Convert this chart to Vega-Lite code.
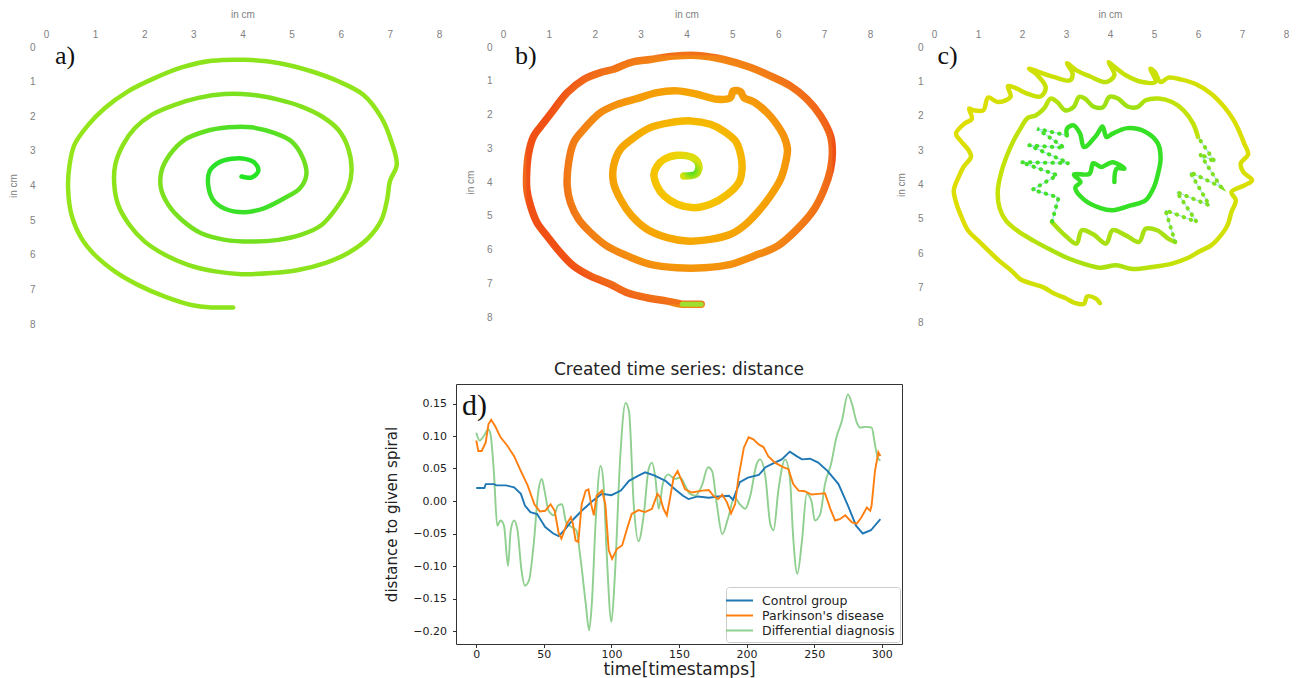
{
"$schema":"https://vega.github.io/schema/vega-lite/v6.json",
"background":"white",
"padding":{"left":8,"top":9,"right":0,"bottom":0},
"config":{"font":"DejaVu Sans","view":{"stroke":null}},
"resolve":{"scale":{"color":"independent"},"legend":{"color":"independent"}},
"datasets":{
"a":[{"i":1,"x":3.98,"y":3.74},{"i":2,"x":4.18,"y":3.77},{"i":3,"x":4.32,"y":3.59},{"i":4,"x":4.25,"y":3.35},{"i":5,"x":4.05,"y":3.23},{"i":6,"x":3.78,"y":3.23},{"i":7,"x":3.50,"y":3.35},{"i":8,"x":3.33,"y":3.59},{"i":9,"x":3.30,"y":3.98},{"i":10,"x":3.40,"y":4.41},{"i":11,"x":3.64,"y":4.67},{"i":12,"x":4.05,"y":4.77},{"i":13,"x":4.45,"y":4.65},{"i":14,"x":4.86,"y":4.36},{"i":15,"x":5.17,"y":4.08},{"i":16,"x":5.30,"y":3.69},{"i":17,"x":5.23,"y":3.21},{"i":18,"x":5.00,"y":2.73},{"i":19,"x":4.66,"y":2.49},{"i":20,"x":4.18,"y":2.32},{"i":21,"x":3.71,"y":2.32},{"i":22,"x":3.23,"y":2.44},{"i":23,"x":2.82,"y":2.68},{"i":24,"x":2.52,"y":3.11},{"i":25,"x":2.35,"y":3.59},{"i":26,"x":2.34,"y":4.08},{"i":27,"x":2.49,"y":4.56},{"i":28,"x":2.76,"y":4.99},{"i":29,"x":3.16,"y":5.38},{"i":30,"x":3.64,"y":5.57},{"i":31,"x":4.18,"y":5.62},{"i":32,"x":4.73,"y":5.57},{"i":33,"x":5.20,"y":5.42},{"i":34,"x":5.61,"y":5.14},{"i":35,"x":5.91,"y":4.65},{"i":36,"x":6.15,"y":4.08},{"i":37,"x":6.22,"y":3.59},{"i":38,"x":6.15,"y":2.92},{"i":39,"x":5.95,"y":2.39},{"i":40,"x":5.61,"y":2.00},{"i":41,"x":5.20,"y":1.72},{"i":42,"x":4.73,"y":1.52},{"i":43,"x":4.18,"y":1.38},{"i":44,"x":3.64,"y":1.36},{"i":45,"x":3.10,"y":1.47},{"i":46,"x":2.62,"y":1.67},{"i":47,"x":2.15,"y":1.96},{"i":48,"x":1.81,"y":2.34},{"i":49,"x":1.57,"y":2.82},{"i":50,"x":1.41,"y":3.40},{"i":51,"x":1.39,"y":3.98},{"i":52,"x":1.47,"y":4.56},{"i":53,"x":1.70,"y":5.14},{"i":54,"x":2.01,"y":5.62},{"i":55,"x":2.42,"y":6.00},{"i":56,"x":2.89,"y":6.29},{"i":57,"x":3.44,"y":6.48},{"i":58,"x":3.98,"y":6.56},{"i":59,"x":4.59,"y":6.53},{"i":60,"x":5.13,"y":6.44},{"i":61,"x":5.68,"y":6.24},{"i":62,"x":6.15,"y":5.95},{"i":63,"x":6.56,"y":5.52},{"i":64,"x":6.83,"y":4.99},{"i":65,"x":6.95,"y":4.36},{"i":66,"x":7.00,"y":3.88},{"i":67,"x":7.14,"y":3.40},{"i":68,"x":7.03,"y":2.73},{"i":69,"x":6.83,"y":2.05},{"i":70,"x":6.46,"y":1.38},{"i":71,"x":5.95,"y":0.99},{"i":72,"x":5.40,"y":0.70},{"i":73,"x":4.73,"y":0.46},{"i":74,"x":4.05,"y":0.37},{"i":75,"x":3.37,"y":0.40},{"i":76,"x":2.76,"y":0.59},{"i":77,"x":2.21,"y":0.90},{"i":78,"x":1.67,"y":1.28},{"i":79,"x":1.20,"y":1.76},{"i":80,"x":0.86,"y":2.25},{"i":81,"x":0.58,"y":2.82},{"i":82,"x":0.48,"y":3.40},{"i":83,"x":0.45,"y":4.08},{"i":84,"x":0.52,"y":4.85},{"i":85,"x":0.72,"y":5.52},{"i":86,"x":0.99,"y":6.00},{"i":87,"x":1.40,"y":6.48},{"i":88,"x":1.87,"y":6.87},{"i":89,"x":2.42,"y":7.21},{"i":90,"x":2.96,"y":7.45},{"i":91,"x":3.37,"y":7.52},{"i":92,"x":3.81,"y":7.52}],
"b":[{"i":1,"x":3.94,"y":3.82},{"i":2,"x":4.20,"y":3.77},{"i":3,"x":4.27,"y":3.58},{"i":4,"x":4.23,"y":3.38},{"i":5,"x":4.09,"y":3.25},{"i":6,"x":3.80,"y":3.21},{"i":7,"x":3.51,"y":3.33},{"i":8,"x":3.36,"y":3.53},{"i":9,"x":3.29,"y":3.77},{"i":10,"x":3.36,"y":4.12},{"i":11,"x":3.51,"y":4.41},{"i":12,"x":3.80,"y":4.66},{"i":13,"x":4.16,"y":4.76},{"i":14,"x":4.52,"y":4.66},{"i":15,"x":4.89,"y":4.37},{"i":16,"x":5.14,"y":4.02},{"i":17,"x":5.21,"y":3.62},{"i":18,"x":5.18,"y":3.18},{"i":19,"x":5.07,"y":2.79},{"i":20,"x":4.81,"y":2.49},{"i":21,"x":4.52,"y":2.29},{"i":22,"x":4.09,"y":2.19},{"i":23,"x":3.65,"y":2.24},{"i":24,"x":3.21,"y":2.39},{"i":25,"x":2.85,"y":2.69},{"i":26,"x":2.56,"y":3.03},{"i":27,"x":2.41,"y":3.53},{"i":28,"x":2.41,"y":4.02},{"i":29,"x":2.56,"y":4.51},{"i":30,"x":2.81,"y":5.01},{"i":31,"x":3.14,"y":5.40},{"i":32,"x":3.58,"y":5.65},{"i":33,"x":4.01,"y":5.75},{"i":34,"x":4.52,"y":5.70},{"i":35,"x":4.96,"y":5.55},{"i":36,"x":5.25,"y":5.30},{"i":37,"x":5.54,"y":4.91},{"i":38,"x":5.83,"y":4.41},{"i":39,"x":6.05,"y":3.92},{"i":40,"x":6.16,"y":3.43},{"i":41,"x":6.20,"y":3.03},{"i":42,"x":6.12,"y":2.64},{"i":43,"x":5.94,"y":2.24},{"i":44,"x":5.76,"y":1.95},{"i":45,"x":5.47,"y":1.63},{"i":46,"x":5.25,"y":1.50},{"i":47,"x":5.18,"y":1.33},{"i":48,"x":5.02,"y":1.30},{"i":49,"x":4.96,"y":1.50},{"i":50,"x":4.67,"y":1.55},{"i":51,"x":4.23,"y":1.40},{"i":52,"x":3.80,"y":1.30},{"i":53,"x":3.36,"y":1.35},{"i":54,"x":2.92,"y":1.53},{"i":55,"x":2.49,"y":1.70},{"i":56,"x":2.12,"y":1.95},{"i":57,"x":1.76,"y":2.44},{"i":58,"x":1.54,"y":2.83},{"i":59,"x":1.43,"y":3.43},{"i":60,"x":1.40,"y":4.12},{"i":61,"x":1.47,"y":4.61},{"i":62,"x":1.65,"y":5.11},{"i":63,"x":1.91,"y":5.50},{"i":64,"x":2.27,"y":5.90},{"i":65,"x":2.71,"y":6.19},{"i":66,"x":3.21,"y":6.44},{"i":67,"x":3.80,"y":6.54},{"i":68,"x":4.38,"y":6.54},{"i":69,"x":4.96,"y":6.44},{"i":70,"x":5.47,"y":6.19},{"i":71,"x":5.98,"y":5.90},{"i":72,"x":6.41,"y":5.40},{"i":73,"x":6.78,"y":4.81},{"i":74,"x":7.00,"y":4.22},{"i":75,"x":7.14,"y":3.62},{"i":76,"x":7.18,"y":3.13},{"i":77,"x":7.14,"y":2.64},{"i":78,"x":6.92,"y":2.04},{"i":79,"x":6.63,"y":1.55},{"i":80,"x":6.27,"y":1.16},{"i":81,"x":5.83,"y":0.86},{"i":82,"x":5.40,"y":0.61},{"i":83,"x":4.81,"y":0.37},{"i":84,"x":4.23,"y":0.25},{"i":85,"x":3.72,"y":0.27},{"i":86,"x":3.21,"y":0.37},{"i":87,"x":2.78,"y":0.46},{"i":88,"x":2.41,"y":0.66},{"i":89,"x":2.12,"y":0.76},{"i":90,"x":1.76,"y":0.96},{"i":91,"x":1.40,"y":1.35},{"i":92,"x":1.11,"y":1.85},{"i":93,"x":0.89,"y":2.24},{"i":94,"x":0.67,"y":2.64},{"i":95,"x":0.56,"y":3.13},{"i":96,"x":0.52,"y":3.62},{"i":97,"x":0.52,"y":4.22},{"i":98,"x":0.60,"y":4.71},{"i":99,"x":0.74,"y":5.20},{"i":100,"x":0.96,"y":5.60},{"i":101,"x":1.25,"y":6.09},{"i":102,"x":1.54,"y":6.49},{"i":103,"x":1.91,"y":6.79},{"i":104,"x":2.34,"y":7.03},{"i":105,"x":2.71,"y":7.28},{"i":106,"x":3.14,"y":7.43},{"i":107,"x":3.58,"y":7.53},{"i":108,"x":3.91,"y":7.62},{"i":109,"x":4.16,"y":7.62},{"i":110,"x":4.32,"y":7.62}],
"c":[{"i":1,"x":4.10,"y":3.93},{"i":2,"x":4.15,"y":3.54},{"i":3,"x":4.33,"y":3.54},{"i":4,"x":4.06,"y":3.35},{"i":5,"x":3.80,"y":3.49},{"i":6,"x":3.62,"y":3.38},{"i":7,"x":3.53,"y":3.69},{"i":8,"x":3.18,"y":3.71},{"i":9,"x":3.33,"y":3.93},{"i":10,"x":3.21,"y":4.09},{"i":11,"x":3.41,"y":4.44},{"i":12,"x":3.77,"y":4.68},{"i":13,"x":4.06,"y":4.75},{"i":14,"x":4.47,"y":4.61},{"i":15,"x":4.81,"y":4.46},{"i":16,"x":5.00,"y":4.07},{"i":17,"x":5.09,"y":3.69},{"i":18,"x":5.15,"y":3.25},{"i":19,"x":5.09,"y":2.81},{"i":20,"x":4.81,"y":2.47},{"i":21,"x":4.40,"y":2.36},{"i":22,"x":4.06,"y":2.52},{"i":23,"x":3.92,"y":2.62},{"i":24,"x":3.83,"y":2.31},{"i":25,"x":3.69,"y":2.57},{"i":26,"x":3.41,"y":2.91},{"i":27,"x":3.32,"y":2.52},{"i":28,"x":3.17,"y":2.28},{"i":29,"x":3.02,"y":2.38},{"i":30,"x":3.02,"y":2.57},{"i":31,"x":2.35,"y":2.38},{"i":32,"x":2.96,"y":2.93},{"i":33,"x":2.16,"y":2.86},{"i":34,"x":3.06,"y":3.38},{"i":35,"x":1.98,"y":3.35},{"i":36,"x":2.80,"y":3.73},{"i":37,"x":2.24,"y":4.15},{"i":38,"x":2.83,"y":4.38},{"i":39,"x":2.68,"y":5.09},{"i":40,"x":3.02,"y":5.53},{"i":41,"x":3.24,"y":5.72},{"i":42,"x":3.36,"y":5.33},{"i":43,"x":3.62,"y":5.45},{"i":44,"x":3.91,"y":5.72},{"i":45,"x":4.06,"y":5.33},{"i":46,"x":4.36,"y":5.48},{"i":47,"x":4.66,"y":5.67},{"i":48,"x":4.81,"y":5.29},{"i":49,"x":5.07,"y":5.33},{"i":50,"x":5.33,"y":5.58},{"i":51,"x":5.48,"y":5.67},{"i":52,"x":5.26,"y":4.75},{"i":53,"x":5.97,"y":5.09},{"i":54,"x":5.52,"y":4.22},{"i":55,"x":6.26,"y":4.61},{"i":56,"x":5.82,"y":3.64},{"i":57,"x":6.52,"y":4.07},{"i":58,"x":6.04,"y":3.10},{"i":59,"x":6.39,"y":3.35},{"i":60,"x":6.00,"y":2.62},{"i":61,"x":5.89,"y":2.23},{"i":62,"x":5.67,"y":1.84},{"i":63,"x":5.41,"y":1.60},{"i":64,"x":5.11,"y":1.50},{"i":65,"x":4.81,"y":1.55},{"i":66,"x":4.62,"y":1.75},{"i":67,"x":4.40,"y":1.73},{"i":68,"x":4.18,"y":1.50},{"i":69,"x":3.99,"y":1.45},{"i":70,"x":3.84,"y":1.75},{"i":71,"x":3.62,"y":1.73},{"i":72,"x":3.43,"y":1.50},{"i":73,"x":3.30,"y":1.45},{"i":74,"x":3.17,"y":1.75},{"i":75,"x":2.98,"y":1.84},{"i":76,"x":2.80,"y":1.60},{"i":77,"x":2.65,"y":1.50},{"i":78,"x":2.50,"y":1.79},{"i":79,"x":2.31,"y":1.99},{"i":80,"x":2.13,"y":2.06},{"i":81,"x":1.96,"y":2.38},{"i":82,"x":1.81,"y":2.72},{"i":83,"x":1.66,"y":3.15},{"i":84,"x":1.53,"y":3.64},{"i":85,"x":1.45,"y":4.17},{"i":86,"x":1.49,"y":4.68},{"i":87,"x":1.64,"y":5.06},{"i":88,"x":1.90,"y":5.35},{"i":89,"x":2.27,"y":5.64},{"i":90,"x":2.65,"y":5.90},{"i":91,"x":3.02,"y":6.13},{"i":92,"x":3.39,"y":6.30},{"i":93,"x":3.77,"y":6.42},{"i":94,"x":4.14,"y":6.35},{"i":95,"x":4.51,"y":6.46},{"i":96,"x":4.96,"y":6.40},{"i":97,"x":5.41,"y":6.30},{"i":98,"x":5.78,"y":6.13},{"i":99,"x":6.04,"y":5.94},{"i":100,"x":6.30,"y":5.77},{"i":101,"x":6.52,"y":5.48},{"i":102,"x":6.67,"y":5.19},{"i":103,"x":6.76,"y":4.80},{"i":104,"x":6.86,"y":4.46},{"i":105,"x":6.76,"y":4.22},{"i":106,"x":7.05,"y":4.03},{"i":107,"x":7.23,"y":3.88},{"i":108,"x":7.03,"y":3.64},{"i":109,"x":6.97,"y":3.39},{"i":110,"x":7.14,"y":3.12},{"i":111,"x":7.05,"y":2.81},{"i":112,"x":6.96,"y":2.52},{"i":113,"x":6.81,"y":2.13},{"i":114,"x":6.60,"y":1.75},{"i":115,"x":6.30,"y":1.36},{"i":116,"x":5.97,"y":1.09},{"i":117,"x":5.63,"y":0.95},{"i":118,"x":5.33,"y":0.89},{"i":119,"x":5.15,"y":1.02},{"i":120,"x":5.02,"y":0.73},{"i":121,"x":4.92,"y":0.63},{"i":122,"x":5.03,"y":1.02},{"i":123,"x":4.74,"y":1.02},{"i":124,"x":4.36,"y":0.82},{"i":125,"x":4.06,"y":0.53},{"i":126,"x":3.97,"y":0.44},{"i":127,"x":4.10,"y":0.82},{"i":128,"x":3.91,"y":1.02},{"i":129,"x":3.54,"y":0.85},{"i":130,"x":3.24,"y":0.68},{"i":131,"x":3.02,"y":0.47},{"i":132,"x":3.15,"y":0.78},{"i":133,"x":3.09,"y":0.97},{"i":134,"x":2.72,"y":0.87},{"i":135,"x":2.39,"y":0.73},{"i":136,"x":2.16,"y":0.63},{"i":137,"x":2.35,"y":0.82},{"i":138,"x":2.54,"y":1.18},{"i":139,"x":2.42,"y":1.44},{"i":140,"x":2.13,"y":1.36},{"i":141,"x":1.83,"y":1.18},{"i":142,"x":1.68,"y":1.14},{"i":143,"x":1.74,"y":1.45},{"i":144,"x":1.45,"y":1.60},{"i":145,"x":1.23,"y":1.47},{"i":146,"x":1.12,"y":1.84},{"i":147,"x":0.89,"y":1.84},{"i":148,"x":0.80,"y":1.79},{"i":149,"x":0.86,"y":2.09},{"i":150,"x":0.69,"y":2.23},{"i":151,"x":0.50,"y":2.52},{"i":152,"x":0.60,"y":2.72},{"i":153,"x":0.80,"y":3.03},{"i":154,"x":0.84,"y":3.20},{"i":155,"x":0.67,"y":3.49},{"i":156,"x":0.56,"y":3.78},{"i":157,"x":0.45,"y":4.17},{"i":158,"x":0.50,"y":4.51},{"i":159,"x":0.62,"y":4.93},{"i":160,"x":0.77,"y":5.33},{"i":161,"x":1.01,"y":5.64},{"i":162,"x":1.25,"y":5.94},{"i":163,"x":1.49,"y":6.23},{"i":164,"x":1.77,"y":6.52},{"i":165,"x":1.98,"y":6.77},{"i":166,"x":2.24,"y":6.89},{"i":167,"x":2.50,"y":7.00},{"i":168,"x":2.74,"y":7.18},{"i":169,"x":2.98,"y":7.30},{"i":170,"x":3.21,"y":7.45},{"i":171,"x":3.41,"y":7.47},{"i":172,"x":3.48,"y":7.26},{"i":173,"x":3.68,"y":7.32},{"i":174,"x":3.77,"y":7.45}],
"ts":[
{"g":"Control group","t":0,"v":0.020},{"g":"Control group","t":6,"v":0.020},{"g":"Control group","t":7,"v":0.026},{"g":"Control group","t":13,"v":0.026},{"g":"Control group","t":15,"v":0.024},{"g":"Control group","t":22,"v":0.024},{"g":"Control group","t":28,"v":0.021},{"g":"Control group","t":33,"v":0.011},{"g":"Control group","t":36,"v":-0.007},{"g":"Control group","t":40,"v":-0.017},{"g":"Control group","t":45,"v":-0.020},{"g":"Control group","t":51,"v":-0.040},{"g":"Control group","t":57,"v":-0.050},{"g":"Control group","t":61,"v":-0.054},{"g":"Control group","t":66,"v":-0.043},{"g":"Control group","t":71,"v":-0.030},{"g":"Control group","t":78,"v":-0.015},{"g":"Control group","t":86,"v":0.000},{"g":"Control group","t":93,"v":0.011},{"g":"Control group","t":100,"v":0.009},{"g":"Control group","t":107,"v":0.016},{"g":"Control group","t":113,"v":0.031},{"g":"Control group","t":120,"v":0.039},{"g":"Control group","t":125,"v":0.044},{"g":"Control group","t":132,"v":0.039},{"g":"Control group","t":140,"v":0.031},{"g":"Control group","t":147,"v":0.018},{"g":"Control group","t":153,"v":0.008},{"g":"Control group","t":157,"v":0.003},{"g":"Control group","t":164,"v":0.007},{"g":"Control group","t":172,"v":0.005},{"g":"Control group","t":179,"v":0.007},{"g":"Control group","t":187,"v":0.008},{"g":"Control group","t":190,"v":0.002},{"g":"Control group","t":195,"v":0.029},{"g":"Control group","t":201,"v":0.036},{"g":"Control group","t":209,"v":0.040},{"g":"Control group","t":214,"v":0.052},{"g":"Control group","t":219,"v":0.057},{"g":"Control group","t":226,"v":0.064},{"g":"Control group","t":232,"v":0.076},{"g":"Control group","t":237,"v":0.069},{"g":"Control group","t":241,"v":0.064},{"g":"Control group","t":247,"v":0.065},{"g":"Control group","t":253,"v":0.059},{"g":"Control group","t":260,"v":0.046},{"g":"Control group","t":268,"v":0.026},{"g":"Control group","t":275,"v":-0.007},{"g":"Control group","t":281,"v":-0.038},{"g":"Control group","t":286,"v":-0.050},{"g":"Control group","t":292,"v":-0.045},{"g":"Control group","t":299,"v":-0.028},
{"g":"Parkinson's disease","t":0,"v":0.093},{"g":"Parkinson's disease","t":1.5,"v":0.077},{"g":"Parkinson's disease","t":4,"v":0.077},{"g":"Parkinson's disease","t":7,"v":0.090},{"g":"Parkinson's disease","t":9,"v":0.118},{"g":"Parkinson's disease","t":11,"v":0.125},{"g":"Parkinson's disease","t":14,"v":0.115},{"g":"Parkinson's disease","t":18,"v":0.098},{"g":"Parkinson's disease","t":23,"v":0.085},{"g":"Parkinson's disease","t":28,"v":0.069},{"g":"Parkinson's disease","t":33,"v":0.046},{"g":"Parkinson's disease","t":38,"v":0.024},{"g":"Parkinson's disease","t":43,"v":-0.005},{"g":"Parkinson's disease","t":47,"v":-0.016},{"g":"Parkinson's disease","t":51,"v":-0.015},{"g":"Parkinson's disease","t":55,"v":-0.005},{"g":"Parkinson's disease","t":58,"v":-0.015},{"g":"Parkinson's disease","t":61,"v":-0.050},{"g":"Parkinson's disease","t":63,"v":-0.058},{"g":"Parkinson's disease","t":67,"v":-0.035},{"g":"Parkinson's disease","t":70,"v":-0.025},{"g":"Parkinson's disease","t":71.5,"v":-0.035},{"g":"Parkinson's disease","t":73.5,"v":-0.061},{"g":"Parkinson's disease","t":75.5,"v":-0.063},{"g":"Parkinson's disease","t":78,"v":-0.005},{"g":"Parkinson's disease","t":81,"v":0.016},{"g":"Parkinson's disease","t":83,"v":0.018},{"g":"Parkinson's disease","t":85,"v":-0.005},{"g":"Parkinson's disease","t":87,"v":-0.022},{"g":"Parkinson's disease","t":89,"v":0.008},{"g":"Parkinson's disease","t":93,"v":0.016},{"g":"Parkinson's disease","t":95.5,"v":-0.005},{"g":"Parkinson's disease","t":98,"v":-0.076},{"g":"Parkinson's disease","t":100.5,"v":-0.089},{"g":"Parkinson's disease","t":104,"v":-0.074},{"g":"Parkinson's disease","t":108,"v":-0.068},{"g":"Parkinson's disease","t":111.5,"v":-0.043},{"g":"Parkinson's disease","t":115,"v":-0.020},{"g":"Parkinson's disease","t":120,"v":-0.014},{"g":"Parkinson's disease","t":125,"v":-0.017},{"g":"Parkinson's disease","t":130,"v":-0.012},{"g":"Parkinson's disease","t":134,"v":0.011},{"g":"Parkinson's disease","t":136,"v":0.006},{"g":"Parkinson's disease","t":138.5,"v":-0.012},{"g":"Parkinson's disease","t":141,"v":-0.022},{"g":"Parkinson's disease","t":143.5,"v":0.006},{"g":"Parkinson's disease","t":146,"v":0.036},{"g":"Parkinson's disease","t":149,"v":0.046},{"g":"Parkinson's disease","t":152,"v":0.031},{"g":"Parkinson's disease","t":154.5,"v":0.018},{"g":"Parkinson's disease","t":159.5,"v":0.013},{"g":"Parkinson's disease","t":167,"v":0.016},{"g":"Parkinson's disease","t":172,"v":0.017},{"g":"Parkinson's disease","t":175.5,"v":0.008},{"g":"Parkinson's disease","t":179,"v":0.003},{"g":"Parkinson's disease","t":182,"v":0.010},{"g":"Parkinson's disease","t":185.5,"v":-0.002},{"g":"Parkinson's disease","t":188.5,"v":-0.019},{"g":"Parkinson's disease","t":191.5,"v":-0.005},{"g":"Parkinson's disease","t":194,"v":0.036},{"g":"Parkinson's disease","t":198,"v":0.082},{"g":"Parkinson's disease","t":201.5,"v":0.098},{"g":"Parkinson's disease","t":205,"v":0.095},{"g":"Parkinson's disease","t":209,"v":0.087},{"g":"Parkinson's disease","t":212.5,"v":0.083},{"g":"Parkinson's disease","t":216,"v":0.069},{"g":"Parkinson's disease","t":221,"v":0.059},{"g":"Parkinson's disease","t":227,"v":0.052},{"g":"Parkinson's disease","t":231,"v":0.049},{"g":"Parkinson's disease","t":234.5,"v":0.026},{"g":"Parkinson's disease","t":238.5,"v":0.016},{"g":"Parkinson's disease","t":243,"v":0.015},{"g":"Parkinson's disease","t":248,"v":0.010},{"g":"Parkinson's disease","t":253,"v":0.011},{"g":"Parkinson's disease","t":258,"v":0.012},{"g":"Parkinson's disease","t":262,"v":-0.012},{"g":"Parkinson's disease","t":265.5,"v":-0.030},{"g":"Parkinson's disease","t":269,"v":-0.028},{"g":"Parkinson's disease","t":273,"v":-0.022},{"g":"Parkinson's disease","t":278,"v":-0.033},{"g":"Parkinson's disease","t":281.5,"v":-0.035},{"g":"Parkinson's disease","t":285,"v":-0.025},{"g":"Parkinson's disease","t":289,"v":-0.010},{"g":"Parkinson's disease","t":291.5,"v":-0.015},{"g":"Parkinson's disease","t":292.5,"v":-0.007},{"g":"Parkinson's disease","t":295,"v":0.046},{"g":"Parkinson's disease","t":297.5,"v":0.075},{"g":"Parkinson's disease","t":299,"v":0.069},
{"g":"Differential diagnosis","t":0,"v":0.105},{"g":"Differential diagnosis","t":2.5,"v":0.093},{"g":"Differential diagnosis","t":5.5,"v":0.100},{"g":"Differential diagnosis","t":9,"v":0.110},{"g":"Differential diagnosis","t":10.5,"v":0.103},{"g":"Differential diagnosis","t":13,"v":0.046},{"g":"Differential diagnosis","t":15.5,"v":-0.038},{"g":"Differential diagnosis","t":18,"v":-0.030},{"g":"Differential diagnosis","t":20.5,"v":-0.038},{"g":"Differential diagnosis","t":23.5,"v":-0.100},{"g":"Differential diagnosis","t":25.5,"v":-0.045},{"g":"Differential diagnosis","t":28,"v":-0.030},{"g":"Differential diagnosis","t":30.5,"v":-0.045},{"g":"Differential diagnosis","t":33.5,"v":-0.107},{"g":"Differential diagnosis","t":36,"v":-0.130},{"g":"Differential diagnosis","t":39,"v":-0.122},{"g":"Differential diagnosis","t":42.5,"v":-0.066},{"g":"Differential diagnosis","t":46,"v":0.016},{"g":"Differential diagnosis","t":48.5,"v":0.034},{"g":"Differential diagnosis","t":50.5,"v":0.016},{"g":"Differential diagnosis","t":53.5,"v":-0.015},{"g":"Differential diagnosis","t":57.5,"v":-0.022},{"g":"Differential diagnosis","t":60.5,"v":-0.007},{"g":"Differential diagnosis","t":63.5,"v":-0.005},{"g":"Differential diagnosis","t":66.5,"v":-0.033},{"g":"Differential diagnosis","t":70.5,"v":-0.040},{"g":"Differential diagnosis","t":74,"v":-0.045},{"g":"Differential diagnosis","t":77,"v":-0.086},{"g":"Differential diagnosis","t":81,"v":-0.158},{"g":"Differential diagnosis","t":83.5,"v":-0.199},{"g":"Differential diagnosis","t":85.5,"v":-0.158},{"g":"Differential diagnosis","t":88.5,"v":-0.025},{"g":"Differential diagnosis","t":92,"v":0.054},{"g":"Differential diagnosis","t":94,"v":0.031},{"g":"Differential diagnosis","t":96.5,"v":-0.081},{"g":"Differential diagnosis","t":100,"v":-0.186},{"g":"Differential diagnosis","t":102.5,"v":-0.117},{"g":"Differential diagnosis","t":106.5,"v":0.067},{"g":"Differential diagnosis","t":110.5,"v":0.151},{"g":"Differential diagnosis","t":113,"v":0.138},{"g":"Differential diagnosis","t":116.5,"v":-0.005},{"g":"Differential diagnosis","t":120,"v":-0.062},{"g":"Differential diagnosis","t":124,"v":-0.020},{"g":"Differential diagnosis","t":127.5,"v":0.049},{"g":"Differential diagnosis","t":130,"v":0.059},{"g":"Differential diagnosis","t":132.5,"v":0.036},{"g":"Differential diagnosis","t":135,"v":-0.012},{"g":"Differential diagnosis","t":138,"v":0.026},{"g":"Differential diagnosis","t":142,"v":0.041},{"g":"Differential diagnosis","t":147,"v":0.034},{"g":"Differential diagnosis","t":151,"v":0.036},{"g":"Differential diagnosis","t":154.5,"v":0.024},{"g":"Differential diagnosis","t":158,"v":0.011},{"g":"Differential diagnosis","t":162,"v":0.008},{"g":"Differential diagnosis","t":167,"v":0.024},{"g":"Differential diagnosis","t":171.5,"v":0.052},{"g":"Differential diagnosis","t":174.5,"v":0.046},{"g":"Differential diagnosis","t":178,"v":-0.005},{"g":"Differential diagnosis","t":182,"v":-0.051},{"g":"Differential diagnosis","t":186.5,"v":-0.025},{"g":"Differential diagnosis","t":191,"v":0.006},{"g":"Differential diagnosis","t":195,"v":-0.005},{"g":"Differential diagnosis","t":199,"v":-0.012},{"g":"Differential diagnosis","t":202.5,"v":0.006},{"g":"Differential diagnosis","t":207.5,"v":0.057},{"g":"Differential diagnosis","t":210,"v":0.064},{"g":"Differential diagnosis","t":214,"v":0.036},{"g":"Differential diagnosis","t":217.5,"v":-0.035},{"g":"Differential diagnosis","t":220,"v":-0.045},{"g":"Differential diagnosis","t":223.5,"v":0.016},{"g":"Differential diagnosis","t":228.5,"v":0.064},{"g":"Differential diagnosis","t":232,"v":0.036},{"g":"Differential diagnosis","t":234.5,"v":-0.056},{"g":"Differential diagnosis","t":237.5,"v":-0.112},{"g":"Differential diagnosis","t":241,"v":-0.061},{"g":"Differential diagnosis","t":244.5,"v":0.011},{"g":"Differential diagnosis","t":248,"v":0.000},{"g":"Differential diagnosis","t":250.5,"v":-0.030},{"g":"Differential diagnosis","t":254.5,"v":-0.020},{"g":"Differential diagnosis","t":258,"v":0.026},{"g":"Differential diagnosis","t":262.5,"v":0.057},{"g":"Differential diagnosis","t":266.5,"v":0.098},{"g":"Differential diagnosis","t":270.5,"v":0.123},{"g":"Differential diagnosis","t":275,"v":0.164},{"g":"Differential diagnosis","t":278,"v":0.149},{"g":"Differential diagnosis","t":281.5,"v":0.121},{"g":"Differential diagnosis","t":284,"v":0.113},{"g":"Differential diagnosis","t":287.5,"v":0.114},{"g":"Differential diagnosis","t":292.5,"v":0.113},{"g":"Differential diagnosis","t":295,"v":0.087},{"g":"Differential diagnosis","t":297,"v":0.067},{"g":"Differential diagnosis","t":299,"v":0.062}
]},
"vconcat":[
{"hconcat":[
{"width":393,"height":277,"data":{"name":"a"},
 "encoding":{
  "x":{"field":"x","type":"quantitative","scale":{"domain":[0,8],"nice":false,"zero":false},"axis":{"orient":"top","title":"in cm","values":[0,1,2,3,4,5,6,7,8],"format":"d","domain":false,"ticks":false,"grid":false,"labelFlush":false,"labelOverlap":false,"labelFont":"Liberation Sans","labelFontSize":10,"labelColor":"#808080","labelPadding":8,"titleFont":"Liberation Sans","titleFontSize":10,"titleFontWeight":"normal","titleColor":"#808080","titlePadding":10}},
  "y":{"field":"y","type":"quantitative","scale":{"domain":[0,8],"nice":false,"zero":false,"reverse":true},"axis":{"orient":"left","title":"in cm","values":[0,1,2,3,4,5,6,7,8],"format":"d","domain":false,"ticks":false,"grid":false,"labelFlush":false,"labelOverlap":false,"labelFont":"Liberation Sans","labelFontSize":10,"labelColor":"#808080","labelPadding":11,"titleFont":"Liberation Sans","titleFontSize":10,"titleFontWeight":"normal","titleColor":"#808080","titlePadding":11}},
  "order":{"field":"i","type":"quantitative"}},
 "layer":[
  {"mark":{"type":"line","interpolate":"catmull-rom","strokeWidth":4.5,"strokeCap":"round","strokeJoin":"round","stroke":{"gradient":"radial","x1":0.53,"y1":0.47,"r1":0,"x2":0.53,"y2":0.47,"r2":0.5,"stops":[{"offset":0,"color":"#1ee61e"},{"offset":0.2,"color":"#2ee02a"},{"offset":0.38,"color":"#6ee020"},{"offset":0.6,"color":"#88e21c"},{"offset":1,"color":"#94e61a"}]}}},
  {"transform":[{"filter":"datum.i===1"}],"mark":{"type":"text","font":"Liberation Serif","fontSize":26,"color":"#111","align":"center","baseline":"middle"},"encoding":{"x":{"datum":0.39},"y":{"datum":0.26},"text":{"value":"a)"}}}
 ]},
{"width":367,"height":270,"data":{"name":"b"},
 "encoding":{
  "x":{"field":"x","type":"quantitative","scale":{"domain":[0,8],"nice":false,"zero":false},"axis":{"orient":"top","title":"in cm","values":[0,1,2,3,4,5,6,7,8],"format":"d","domain":false,"ticks":false,"grid":false,"labelFlush":false,"labelOverlap":false,"labelFont":"Liberation Sans","labelFontSize":10,"labelColor":"#808080","labelPadding":8,"titleFont":"Liberation Sans","titleFontSize":10,"titleFontWeight":"normal","titleColor":"#808080","titlePadding":10}},
  "y":{"field":"y","type":"quantitative","scale":{"domain":[0,8],"nice":false,"zero":false,"reverse":true},"axis":{"orient":"left","title":"in cm","values":[0,1,2,3,4,5,6,7,8],"format":"d","domain":false,"ticks":false,"grid":false,"labelFlush":false,"labelOverlap":false,"labelFont":"Liberation Sans","labelFontSize":10,"labelColor":"#808080","labelPadding":11,"titleFont":"Liberation Sans","titleFontSize":10,"titleFontWeight":"normal","titleColor":"#808080","titlePadding":11}},
  "order":{"field":"i","type":"quantitative"}},
 "layer":[
  {"mark":{"type":"line","interpolate":"catmull-rom","strokeWidth":7.5,"strokeCap":"round","strokeJoin":"round","stroke":{"gradient":"radial","x1":0.54,"y1":0.47,"r1":0,"x2":0.54,"y2":0.47,"r2":0.5,"stops":[{"offset":0,"color":"#30e020"},{"offset":0.07,"color":"#d8e010"},{"offset":0.18,"color":"#f5cc00"},{"offset":0.38,"color":"#f5b000"},{"offset":0.6,"color":"#f59a08"},{"offset":0.75,"color":"#f28414"},{"offset":0.92,"color":"#f0661a"},{"offset":1,"color":"#f05014"}]}}},
  {"transform":[{"filter":"datum.i>=108"}],"mark":{"type":"line","interpolate":"catmull-rom","strokeWidth":5,"strokeCap":"round","stroke":"#9ee030"}},
  {"transform":[{"filter":"datum.i===1"}],"mark":{"type":"text","font":"Liberation Serif","fontSize":26,"color":"#111","align":"center","baseline":"middle"},"encoding":{"x":{"datum":0.5},"y":{"datum":0.28},"text":{"value":"b)"}}}
 ]},
{"width":352,"height":275,"data":{"name":"c"},
 "encoding":{
  "x":{"field":"x","type":"quantitative","scale":{"domain":[0,8],"nice":false,"zero":false},"axis":{"orient":"top","title":"in cm","values":[0,1,2,3,4,5,6,7,8],"format":"d","domain":false,"ticks":false,"grid":false,"labelFlush":false,"labelOverlap":false,"labelFont":"Liberation Sans","labelFontSize":10,"labelColor":"#808080","labelPadding":8,"titleFont":"Liberation Sans","titleFontSize":10,"titleFontWeight":"normal","titleColor":"#808080","titlePadding":10}},
  "y":{"field":"y","type":"quantitative","scale":{"domain":[0,8],"nice":false,"zero":false,"reverse":true},"axis":{"orient":"left","title":"in cm","values":[0,1,2,3,4,5,6,7,8],"format":"d","domain":false,"ticks":false,"grid":false,"labelFlush":false,"labelOverlap":false,"labelFont":"Liberation Sans","labelFontSize":10,"labelColor":"#808080","labelPadding":11,"titleFont":"Liberation Sans","titleFontSize":10,"titleFontWeight":"normal","titleColor":"#808080","titlePadding":11}},
  "order":{"field":"i","type":"quantitative"}},
 "layer":[
  {"transform":[{"filter":"datum.i<=30"}],"mark":{"type":"line","interpolate":"catmull-rom","strokeWidth":4.5,"strokeCap":"round","strokeJoin":"round","stroke":"#35e025"}},
  {"transform":[{"filter":"datum.i>=39 && datum.i<=51"}],"mark":{"type":"line","interpolate":"catmull-rom","strokeWidth":4.5,"strokeCap":"round","strokeJoin":"round","stroke":"#a8e014"}},
  {"transform":[{"filter":"datum.i>=60"}],"mark":{"type":"line","interpolate":"catmull-rom","strokeWidth":4.5,"strokeCap":"round","strokeJoin":"round","stroke":{"gradient":"radial","x1":0.51,"y1":0.49,"r1":0,"x2":0.51,"y2":0.49,"r2":0.5,"stops":[{"offset":0,"color":"#5ee020"},{"offset":0.45,"color":"#8ee018"},{"offset":0.7,"color":"#c4e208"},{"offset":1,"color":"#dede00"}]}}},
  {"transform":[{"filter":"datum.i>=30 && datum.i<=39"}],"mark":{"type":"line","strokeWidth":0.8,"stroke":"#6cd3ee"}},
  {"transform":[{"filter":"datum.i>=51 && datum.i<=60"}],"mark":{"type":"line","strokeWidth":0.8,"stroke":"#6cd3ee"}},
  {"transform":[{"filter":"datum.i>=30 && datum.i<=39"}],"mark":{"type":"line","strokeWidth":4,"strokeCap":"round","strokeDash":[0.5,7],"stroke":"#45e02a"}},
  {"transform":[{"filter":"datum.i>=51 && datum.i<=60"}],"mark":{"type":"line","strokeWidth":4,"strokeCap":"round","strokeDash":[0.5,7],"stroke":"#7ee020"}},
  {"transform":[{"filter":"datum.i===1"}],"mark":{"type":"text","font":"Liberation Serif","fontSize":26,"color":"#111","align":"center","baseline":"middle"},"encoding":{"x":{"datum":0.31},"y":{"datum":0.27},"text":{"value":"c)"}}}
 ]}
],"spacing":23},
{"hconcat":[
{"width":338,"height":10,"data":{"values":[]},"mark":"point"},
{"width":446,"height":260,
 "view":{"stroke":"#333","strokeWidth":1},
 "title":{"text":"Created time series: distance","font":"DejaVu Sans","fontSize":17,"fontWeight":"normal","color":"#222","offset":5,"anchor":"middle"},
 "data":{"name":"ts"},
 "encoding":{
  "x":{"field":"t","type":"quantitative","scale":{"domain":[-15,315],"nice":false,"zero":false},"axis":{"title":"time[timestamps]","values":[0,50,100,150,200,250,300],"grid":false,"domain":false,"ticks":true,"tickSize":3.5,"tickColor":"#333","labelFlush":false,"labelFont":"DejaVu Sans","labelFontSize":11,"labelColor":"#222","labelPadding":1,"titleFont":"DejaVu Sans","titleFontSize":17,"titleFontWeight":"normal","titleColor":"#222","titlePadding":2}},
  "y":{"field":"v","type":"quantitative","scale":{"domain":[-0.22,0.18],"nice":false,"zero":false},"axis":{"title":"distance to given spiral","values":[-0.2,-0.15,-0.1,-0.05,0,0.05,0.1,0.15],"format":".2f","grid":false,"domain":false,"ticks":true,"tickSize":3.5,"tickColor":"#333","labelFont":"DejaVu Sans","labelFontSize":11,"labelColor":"#222","labelPadding":6,"titleFont":"DejaVu Sans","titleFontSize":15,"titleFontWeight":"normal","titleColor":"#222","titlePadding":13}},
  "color":{"field":"g","type":"nominal","scale":{"domain":["Control group","Parkinson's disease","Differential diagnosis"],"range":["#1f77b4","#ff7f0e","#8fcf8f"]},"legend":{"orient":"bottom-right","title":null,"symbolType":"M-1.8,0H1.8","symbolSize":225,"symbolStrokeWidth":2,"labelFont":"DejaVu Sans","labelFontSize":12.5,"labelColor":"#222","labelOffset":14,"fillColor":"white","strokeColor":"#cccccc","cornerRadius":3,"padding":5,"offset":2,"rowPadding":0}}},
 "layer":[
  {"transform":[{"filter":"datum.g==='Differential diagnosis'"}],"mark":{"type":"line","interpolate":"monotone","strokeWidth":1.9}},
  {"transform":[{"filter":"datum.g!=='Differential diagnosis'"}],"mark":{"type":"line","strokeWidth":1.9}},
  {"transform":[{"filter":"datum.t===0 && datum.g==='Control group'"}],"mark":{"type":"text","font":"Liberation Serif","fontSize":30,"color":"#111","align":"center","baseline":"middle"},"encoding":{"x":{"datum":-1.3},"y":{"datum":0.146},"text":{"value":"d)"},"color":{"value":"#111"}}}
 ]}
],"spacing":0,"resolve":{"scale":{"color":"independent"},"legend":{"color":"independent"}}}
],
"spacing":31
}
